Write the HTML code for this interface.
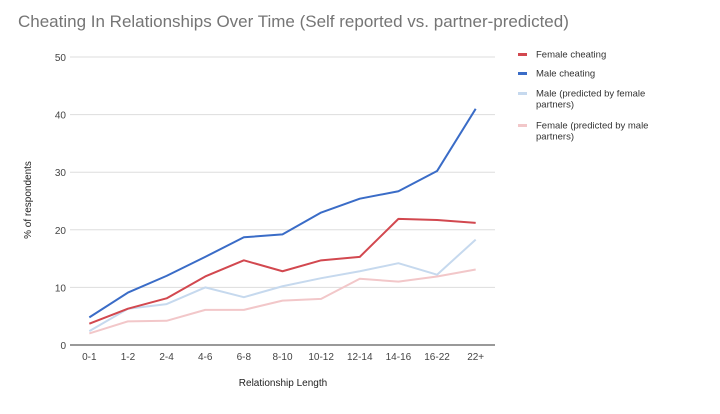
<!DOCTYPE html>
<html><head><meta charset="utf-8"><style>
body{margin:0;background:#fff;font-family:"Liberation Sans",Arial,sans-serif}
svg text{font-family:"Liberation Sans",Arial,sans-serif}
</style></head><body>
<svg id="chart" width="720" height="409">
<text x="18" y="27" font-size="17" fill="#757575">Cheating In Relationships Over Time (Self reported vs. partner-predicted)</text>
<g id="grid"></g><g id="lines"></g><g id="xlabels"></g>
<text x="0" y="0" transform="translate(31,200) rotate(-90)" text-anchor="middle" font-size="10" fill="#222">% of respondents</text>
<text x="283" y="386" text-anchor="middle" font-size="10" fill="#222">Relationship Length</text>
<g id="legend"></g>
</svg>
<script>
const categories=["0-1","1-2","2-4","4-6","6-8","8-10","10-12","12-14","14-16","16-22","22+"];
const femaleCheating=[3.7,6.3,8.1,11.9,14.7,12.8,14.7,15.3,21.9,21.7,21.2];
const maleCheating=[4.8,9.1,12,15.3,18.7,19.2,23,25.4,26.7,30.2,41];
const malePredicted=[2.4,6.3,7.1,10,8.3,10.2,11.6,12.8,14.2,12.2,18.3];
const femalePredicted=[2,4.1,4.2,6.1,6.1,7.7,8,11.5,11,11.9,13.1];
const yTicks=[0,10,20,30,40,50];
const seriesNames=["Female cheating","Male cheating","Male (predicted by female partners)","Female (predicted by male partners)"];
const NS="http://www.w3.org/2000/svg";
const L=70,R=495,T=57,B=345;
const yS=v=>B-(v/50)*(B-T);
const bw=(R-L)/categories.length;
const xS=i=>L+bw*(i+0.5);
function mk(t,a,p){const e=document.createElementNS(NS,t);for(const k in a)e.setAttribute(k,a[k]);p.appendChild(e);return e;}
const grid=document.getElementById('grid');
yTicks.forEach(v=>{
 const l=mk('line',{x1:L,x2:R,y1:yS(v),y2:yS(v),stroke:v===0?'#333':'#ddd','stroke-width':1},grid);
 
 
 const t=mk('text',{x:L-4,y:yS(v)+4,'text-anchor':'end','font-size':10,fill:'#444'},grid);
 t.textContent=v;
 
 
});
const xl=document.getElementById('xlabels');
categories.forEach((c,i)=>{
 const t=mk('text',{x:xS(i),y:360,'text-anchor':'middle','font-size':10,fill:'#444'},xl);
 t.textContent=c;
 
 
});
const series=[[malePredicted,'#c6d9ee'],[femalePredicted,'#f2c7c9'],[femaleCheating,'#d2484f'],[maleCheating,'#3a6cc7']];
const lg=document.getElementById('lines');
series.forEach(([d,c],k)=>{
 const p=mk('polyline',{points:d.map((v,i)=>xS(i)+','+yS(v)).join(' '),fill:'none',stroke:c,'stroke-width':2,'stroke-linejoin':'round'},lg);
 
 
});
const leg=document.getElementById('legend');
const lc=['#d2484f','#3a6cc7','#c6d9ee','#f2c7c9'];
const rows=[[57],[76],[96,107],[128,139]];
const lines=[["Female cheating"],["Male cheating"],["Male (predicted by female","partners)"],["Female (predicted by male","partners)"]];
rows.forEach((r,k)=>{
 const g=mk('g',{},leg);
 
 
 mk('rect',{x:518,y:r[0]-4,width:9,height:3,fill:lc[k]},g);
 lines[k].forEach((s,j)=>{const t=mk('text',{x:536,y:r[j]+0.5,'font-size':9.5,fill:'#333'},g);t.textContent=s;});
});
</script>
</body></html>
